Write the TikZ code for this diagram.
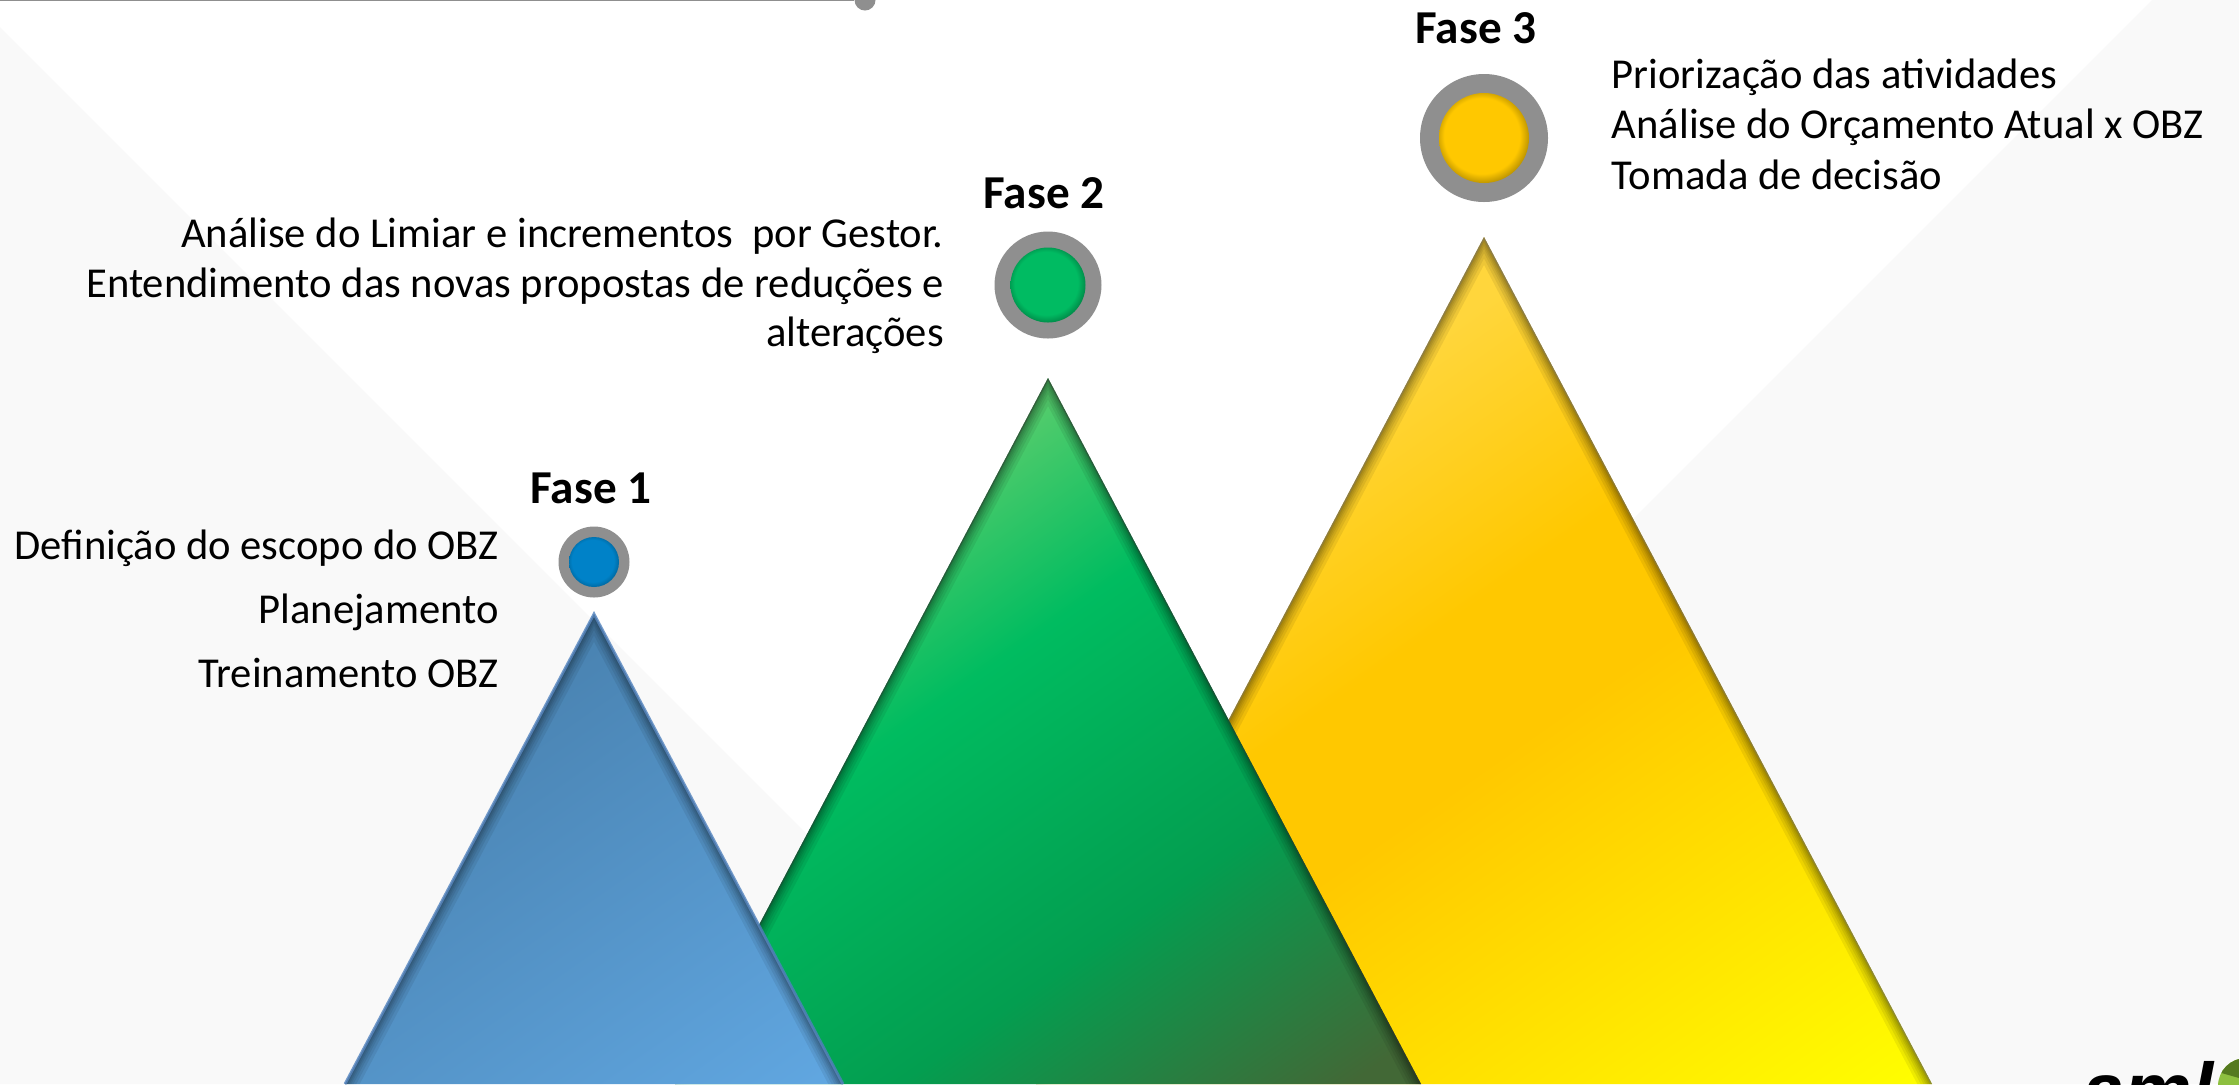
\documentclass[tikz,border=0pt]{standalone}
\usepackage{fontspec}
\setmainfont{Carlito}
\newfontfamily\logofont{Liberation Sans}
\usepackage{tikz}
\usetikzlibrary{positioning}

\definecolor{bggrey}{HTML}{F9F9F9}
\definecolor{ringgrey}{HTML}{8F8F8F}
\definecolor{dotblue}{HTML}{0082C8}
\definecolor{dotgreen}{HTML}{00BB62}
\definecolor{dotyellow}{HTML}{FFC800}
\definecolor{blueA}{HTML}{4982B0}
\definecolor{blueB}{HTML}{60A6E0}
\definecolor{blueline}{HTML}{4F81BD}
\definecolor{greenA}{HTML}{54CC6C}
\definecolor{greenB}{HTML}{00BC60}
\definecolor{greenC}{HTML}{039E50}
\definecolor{greenD}{HTML}{426836}
\definecolor{yellowA}{HTML}{FFD63C}
\definecolor{yellowB}{HTML}{FFC800}
\definecolor{yellowC}{HTML}{FFFF00}
\definecolor{logodark}{HTML}{557A1F}
\definecolor{logolight}{HTML}{8DBF3F}

\pgfdeclarehorizontalshading{faseblue}{100bp}{color(0bp)=(blueA);color(30bp)=(blueA);color(83bp)=(blueB);color(100bp)=(blueB)}
\pgfdeclarehorizontalshading{fasegreen}{100bp}{color(0bp)=(greenA);color(31bp)=(greenA);color(44bp)=(greenB);color(64bp)=(greenC);color(82bp)=(greenD);color(100bp)=(greenD)}
\pgfdeclarehorizontalshading{faseyellow}{100bp}{color(0bp)=(yellowA);color(33bp)=(yellowA);color(47bp)=(yellowB);color(55bp)=(yellowB);color(85bp)=(yellowC);color(100bp)=(yellowC)}
\pgfdeclareradialshading{shadeblue}{\pgfpoint{-2bp}{2bp}}{color(0bp)=(dotblue);color(21bp)=(dotblue);color(29bp)=(dotblue!70!black);color(50bp)=(dotblue!70!black)}
\pgfdeclareradialshading{shadegreen}{\pgfpoint{-2bp}{2bp}}{color(0bp)=(dotgreen);color(21bp)=(dotgreen);color(29bp)=(dotgreen!60!black);color(50bp)=(dotgreen!60!black)}
\pgfdeclareradialshading{shadeyellow}{\pgfpoint{-2bp}{2bp}}{color(0bp)=(dotyellow);color(21bp)=(dotyellow);color(29bp)=(dotyellow!60!black);color(50bp)=(dotyellow!60!black)}

\begin{document}
\begin{tikzpicture}[x=.5pt, y=-.5pt, node distance = 25pt,
ring/.style={circle, fill=ringgrey, inner sep = 0pt},
dot/.style={circle, inner sep = 0pt},
fase/.style={font=\fontsize{23.6}{28}\selectfont\bfseries, inner sep = 0pt},
body/.style={font=\fontsize{21.3}{24.8}\selectfont, inner sep = 0pt}]
\useasboundingbox (0,0) rectangle (2239,1084);
\clip (0,0) rectangle (2239,1084);
\fill[white] (0,0) rectangle (2239,1084);

% background
\fill[bggrey] (0,27) -- (1057,1084) -- (0,1084) -- cycle;
\fill[bggrey] (2152,0) -- (2239,0) -- (2239,1084) -- (1068,1084) -- cycle;

% top rule
\coordinate (RuleL) at (0,0);
\node[circle, fill=ringgrey, minimum size = 10.5pt, inner sep = 0pt] (RuleDot) at (865,0) {};
\draw[ringgrey, line width = 1pt] (RuleL)--(RuleDot);

\coordinate (Top1) at (594,614);
\coordinate (Lft1) at (345,1084);
\coordinate (Rgt1) at (843,1084);
\coordinate (Top2) at (1048,378);
\coordinate (Lft2) at (675,1084);
\coordinate (Rgt2) at (1421,1084);
\coordinate (Top3) at (1484,237);
\coordinate (Lft3) at (1036,1084);
\coordinate (Rgt3) at (1932,1084);

% peaks, back to front
\foreach \n/\s/\e in {3/faseyellow/black!55,2/fasegreen/black!80,1/faseblue/black!50} {
  \shade[shading=\s, shading angle=-55] (Top\n)--(Lft\n)--(Rgt\n)--cycle;
  \begin{scope}
    \clip (Top\n)--(Lft\n)--(Rgt\n)--cycle;
    \foreach \w in {13,10,7.5,5.5,4,2.5}
      \draw[black, opacity=.07, line width=\w pt] (Lft\n)--(Top\n)--(Rgt\n);
    \draw[\e, opacity=.45, line width=1.2pt] (Lft\n)--(Top\n)--(Rgt\n);
  \end{scope}
}
\draw[blueline, line width=1.4pt, opacity=.8] (Lft1)--(Top1)--(Rgt1);

% rings
\node[ring, minimum size = 35.5pt] (Ring1) at (594,562) {};
\node[ring, minimum size = 53.5pt] (Ring2) at (1048,285) {};
\node[ring, minimum size = 64pt] (Ring3) at (1484,138) {};
\node[dot, minimum size = 25pt, shading=shadeblue] (Dot1) at (Ring1) {};
\node[dot, minimum size = 37.5pt, shading=shadegreen] (Dot2) at (Ring2) {};
\node[dot, minimum size = 45pt, shading=shadeyellow] (Dot3) at (Ring3) {};

\node[fase, above=11pt of Ring1, xshift=-1.5pt] (Fase1) {Fase 1};
\node[fase, above=11pt of Ring2, xshift=-2pt] (Fase2) {Fase 2};
\node[fase, above=14.5pt of Ring3, xshift=-4pt] (Fase3) {Fase 3};

\node[body, left=29.5pt of Ring1, yshift=-23.5pt, align=right,
  font=\fontsize{21.3}{32}\selectfont] (Text1)
  {Definição do escopo do OBZ\\Planejamento\\Treinamento OBZ};
\node[body, left=25pt of Ring2, yshift=-.5pt, align=right] (Text2)
  {Análise do Limiar e incrementos\ \ por Gestor.\\Entendimento das novas propostas de reduções e\\alterações};
\node[body, right=31.5pt of Ring3, yshift=7pt, align=left,
  font=\fontsize{21.3}{25.2}\selectfont] (Text3)
  {Priorização das atividades\\Análise do Orçamento Atual x OBZ\\Tomada de decisão};

% logo, cut by the lower edge
\node[anchor=base west, inner sep = 0pt, font=\fontsize{38}{38}\selectfont\logofont\bfseries\itshape] (Logo) at (2082,1116) {aml};
\fill[logolight] (2246,1086) circle (14pt);
\begin{scope}
  \clip (2246,1086) circle (14pt);
  \fill[logodark] (2210,1050) -- (2260,1050) -- (2260,1084) -- (2218,1072) -- cycle;
\end{scope}
\end{tikzpicture}
\end{document}
